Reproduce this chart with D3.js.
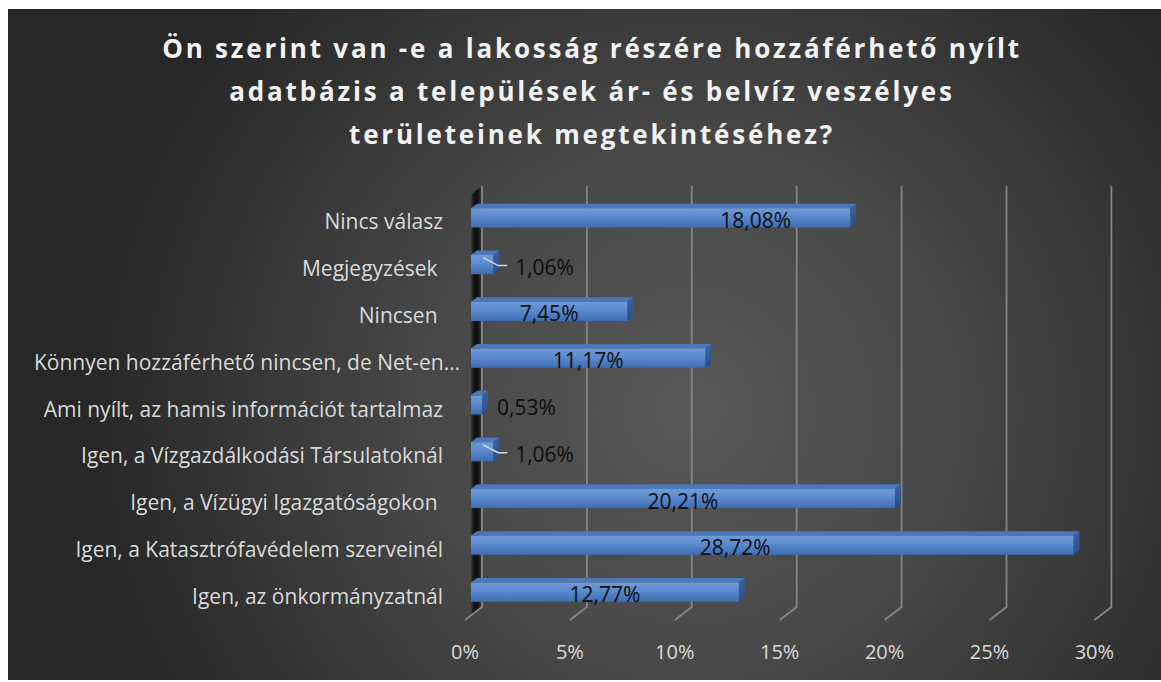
<!DOCTYPE html>
<html>
<head>
<meta charset="utf-8">
<script src="https://cdn.jsdelivr.net/npm/d3@7"></script>
<style>
  body { margin: 0; background: #fff; }
  text { font-family: "Open Sans", sans-serif; }
</style>
</head>
<body>
<svg id="chart" width="1161" height="682"></svg>
<script>
const titleLines = [
  "Ön szerint van -e a lakosság részére hozzáférhető nyílt",
  "adatbázis a települések ár- és belvíz veszélyes",
  "területeinek megtekintéséhez?"
];
// top to bottom, as shown in the chart
const categories = [
  "Nincs válasz",
  "Megjegyzések ",
  "Nincsen ",
  "Könnyen hozzáférhető nincsen, de Net-en…",
  "Ami nyílt, az hamis információt tartalmaz",
  "Igen, a Vízgazdálkodási Társulatoknál",
  "Igen, a Vízügyi Igazgatóságokon ",
  "Igen, a Katasztrófavédelem szerveinél",
  "Igen, az önkormányzatnál"
];
const values = [18.08, 1.06, 7.45, 11.17, 0.53, 1.06, 20.21, 28.72, 12.77];
const tickValues = [0, 5, 10, 15, 20, 25, 30];

// labels that were dragged by hand in the original sheet
const labelNudge = { "Nincs válasz": 95, "Igen, a Katasztrófavédelem szerveinél": -37 };

const hu = d3.formatLocale({ decimal: ",", thousands: " ", grouping: [3], currency: ["", " Ft"] });
const fmt = hu.format(".2f");

const svg = d3.select("#chart");
const defs = svg.append("defs");

// background
const bg = defs.append("radialGradient").attr("id", "bg")
  .attr("gradientUnits", "userSpaceOnUse")
  .attr("cx", 690).attr("cy", 410).attr("r", 600);
bg.append("stop").attr("offset", 0).attr("stop-color", "#585858");
bg.append("stop").attr("offset", 0.45).attr("stop-color", "#474747");
bg.append("stop").attr("offset", 1).attr("stop-color", "#272727");

svg.append("rect")
  .attr("x", 8).attr("y", 9).attr("width", 1153).attr("height", 671)
  .attr("fill", "url(#bg)");

// 3d setup: front floor plane + depth vector
const depth = [17, -13];
const x = d3.scaleLinear().domain([0, 30]).range([465, 1094.4]);
const y = d3.scaleBand().domain(categories).range([199, 620])
  .paddingInner(0.59).paddingOuter(0.295);

function P(px, py, t) {
  return [px + t * depth[0], py + t * depth[1]];
}
function poly(pts) {
  return "M" + pts.map(p => p.join(",")).join("L") + "Z";
}

// side wall
const wallG = defs.append("linearGradient").attr("id", "wall")
  .attr("x1", 0).attr("x2", 1).attr("y1", 0).attr("y2", 0);
[[0, "#4a4a4a"], [0.3, "#151515"], [0.6, "#0c0c0c"], [0.85, "#2a2a2a"], [1, "#5a5a5a"]]
  .forEach(s => wallG.append("stop").attr("offset", s[0]).attr("stop-color", s[1]));

svg.append("path")
  .attr("d", poly([P(x(0), 199, 0.3), P(x(0), 199, 1), P(x(0), 620, 1), P(x(0), 620, 0.3)]))
  .attr("fill", "url(#wall)");

// gridlines on back wall + floor
svg.append("g").selectAll("path")
  .data(tickValues)
  .enter().append("path")
  .attr("d", d => {
    const a = P(x(d), 199, 1), b = P(x(d), 620, 1), c = P(x(d), 620, 0);
    return "M" + a + "L" + b + "L" + c;
  })
  .attr("fill", "none")
  .attr("stroke", "#858585")
  .attr("stroke-width", 1.8);

// tick labels
svg.append("g").selectAll("text")
  .data(tickValues)
  .enter().append("text")
  .attr("x", d => x(d))
  .attr("y", 659)
  .attr("text-anchor", "middle")
  .attr("font-size", 20)
  .attr("fill", "#d9d9d9")
  .text(d => d + "%");

// category labels
svg.append("g").selectAll("text")
  .data(categories)
  .enter().append("text")
  .attr("x", d => d.endsWith("…") ? 460 : 443)
  .attr("y", d => y(d) + y.bandwidth() / 2 + 7)
  .attr("text-anchor", "end")
  .attr("font-size", 21)
  .attr("fill", "#d9d9d9")
  .style("white-space", "pre")
  .text(d => d);

// bars
const front = defs.append("linearGradient").attr("id", "front")
  .attr("x1", 0).attr("x2", 0).attr("y1", 0).attr("y2", 1);
[[0, "#6f9bd7"], [0.45, "#5a89cd"], [1, "#3d6db2"]]
  .forEach(s => front.append("stop").attr("offset", s[0]).attr("stop-color", s[1]));
const side = defs.append("linearGradient").attr("id", "side")
  .attr("x1", 0).attr("x2", 0).attr("y1", 0).attr("y2", 1);
[[0, "#3a639e"], [1, "#294f86"]]
  .forEach(s => side.append("stop").attr("offset", s[0]).attr("stop-color", s[1]));

const t0 = 0.35, t1 = 0.7;
const rows = categories.map((c, i) => ({ cat: c, val: values[i] }));

const bar = svg.append("g").selectAll("g")
  .data(rows)
  .enter().append("g");

bar.append("path") // top
  .attr("d", d => {
    const y0 = y(d.cat);
    return poly([P(x(0), y0, t0), P(x(0), y0, t1), P(x(d.val), y0, t1), P(x(d.val), y0, t0)]);
  })
  .attr("fill", "#4b78b8");

bar.append("path") // right side
  .attr("d", d => {
    const y0 = y(d.cat), y1 = y0 + y.bandwidth();
    return poly([P(x(d.val), y0, t0), P(x(d.val), y0, t1), P(x(d.val), y1, t1), P(x(d.val), y1, t0)]);
  })
  .attr("fill", "url(#side)");

bar.append("path") // front
  .attr("d", d => {
    const y0 = y(d.cat), y1 = y0 + y.bandwidth();
    return poly([P(x(0), y0, t0), P(x(d.val), y0, t0), P(x(d.val), y1, t0), P(x(0), y1, t0)]);
  })
  .attr("fill", "url(#front)");

// data labels
bar.each(function (d) {
  const g = d3.select(this);
  const cy = P(0, y(d.cat) + y.bandwidth() / 2, t0)[1];
  const x0 = P(x(0), 0, t0)[0];
  const xEnd = P(x(d.val), 0, t1)[0];
  const label = fmt(d.val) + "%";
  if (d.val < 2) {
    let tx = xEnd + 9;
    if (d.val >= 1) {
      tx = xEnd + 16;
      g.append("path")
        .attr("d", "M" + (x0 + 12) + "," + (cy - 7) + "L" + (xEnd - 1) + "," + (cy + 1) + "L" + (tx - 8) + "," + (cy + 1))
        .attr("fill", "none")
        .attr("stroke", "#d9d9d9")
        .attr("stroke-width", 1.5);
    }
    g.append("text")
      .attr("x", tx)
      .attr("y", cy + 10)
      .attr("font-size", 21)
      .attr("fill", "#0d0d0d")
      .text(label);
  } else {
    const xFront = P(x(d.val), 0, t0)[0];
    g.append("text")
      .attr("x", (x0 + xFront) / 2 + (labelNudge[d.cat] || 0))
      .attr("y", cy + 10)
      .attr("text-anchor", "middle")
      .attr("font-size", 21)
      .attr("fill", "#0d0d0d")
      .text(label);
  }
});

// title
svg.append("g").selectAll("text")
  .data(titleLines)
  .enter().append("text")
  .attr("x", 592)
  .attr("y", (d, i) => 58 + i * 43)
  .attr("text-anchor", "middle")
  .attr("font-size", 26)
  .attr("font-weight", "bold")
  .attr("letter-spacing", 2.8)
  .attr("fill", "#f2f2f2")
  .text(d => d);
</script>
</body>
</html>
